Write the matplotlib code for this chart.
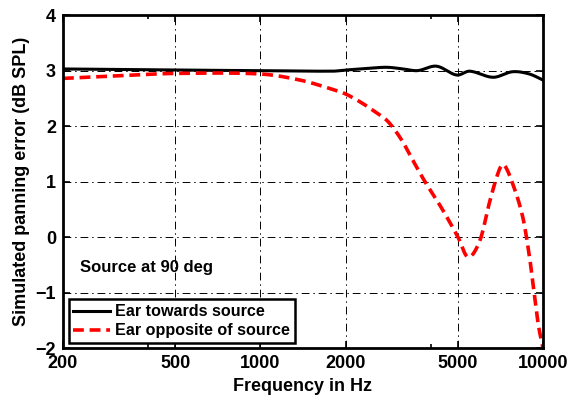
import matplotlib
matplotlib.use("Agg")
import matplotlib.pyplot as plt
import numpy as np
from matplotlib.ticker import FixedLocator, NullFormatter

plt.rcParams['font.family'] = ['Liberation Sans', 'DejaVu Sans']

freq_towards = [200, 500, 1000, 1800, 2000, 2400, 2800, 3200, 3600, 4200, 4950, 5500, 6660, 7800, 8940, 10000]
err_towards = [3.03, 3.01, 3.0, 2.99, 3.01, 3.04, 3.06, 3.03, 3.0, 3.08, 2.92, 2.99, 2.88, 2.98, 2.94, 2.83]

freq_opposite = [200, 350, 500, 995, 1380, 1806, 2000, 2280, 2540, 2830, 3160, 3430, 3820, 4380, 5000, 5430, 5990, 6500, 7000, 7280, 7800, 8480, 8960, 9300, 9600, 10000]
err_opposite = [2.86, 2.92, 2.95, 2.94, 2.83, 2.66, 2.58, 2.42, 2.26, 2.08, 1.75, 1.42, 1.0, 0.52, 0.0, -0.36, -0.05, 0.67, 1.21, 1.30, 0.97, 0.36, -0.36, -1.0, -1.55, -2.0]

xticks = [200, 500, 1000, 2000, 5000, 10000]
xtick_labels = ['200', '500', '1000', '2000', '5000', '10000']
xminor = [400, 4000]
yticks = [-2, -1, 0, 1, 2, 3, 4]

def smooth(xs, ys, n=500):
    lx = np.log10(np.asarray(xs, float))
    ys = np.asarray(ys, float)
    grid = np.linspace(lx[0], lx[-1], n)
    m = np.zeros_like(ys)
    m[1:-1] = (ys[2:] - ys[:-2]) / (lx[2:] - lx[:-2])
    m[0] = (ys[1] - ys[0]) / (lx[1] - lx[0])
    m[-1] = (ys[-1] - ys[-2]) / (lx[-1] - lx[-2])
    idx = np.clip(np.searchsorted(lx, grid) - 1, 0, len(lx) - 2)
    h = lx[idx + 1] - lx[idx]
    t = (grid - lx[idx]) / h
    h00 = 2*t**3 - 3*t**2 + 1; h10 = t**3 - 2*t**2 + t
    h01 = -2*t**3 + 3*t**2; h11 = t**3 - t**2
    out = h00*ys[idx] + h10*h*m[idx] + h01*ys[idx+1] + h11*h*m[idx+1]
    return 10**grid, out

fig = plt.figure(figsize=(5.69, 4.09), dpi=100)
ax = fig.add_axes([0.1107, 0.149, 0.8436, 0.814])

xb, yb = smooth(freq_towards, err_towards)
xr, yr = smooth(freq_opposite, err_opposite)
ax.plot(xb, yb, color='black', lw=2.2, label='Ear towards source')
ax.plot(xr, yr, color='#ff0000', lw=2.6, ls=(0, (3, 1.6)), label='Ear opposite of source')

ax.set_xscale('log')
ax.set_xlim(200, 10000)
ax.set_ylim(-2, 4)
ax.xaxis.set_major_locator(FixedLocator(xticks))
ax.set_xticklabels(xtick_labels)
ax.xaxis.set_minor_locator(FixedLocator(xminor))
ax.xaxis.set_minor_formatter(NullFormatter())
ax.set_yticks(yticks)

ax.grid(True, which='major', color='black', ls=(0, (8, 4, 1.5, 4)), lw=0.7)
ax.tick_params(which='both', direction='in', top=True, right=True, labelsize=13, width=1.2)
ax.tick_params(which='major', length=5, pad=5)
ax.tick_params(which='minor', length=3)
for lbl in ax.get_xticklabels() + ax.get_yticklabels():
    lbl.set_fontweight('bold')
for s in ax.spines.values():
    s.set_linewidth(2.0)

ax.set_xlabel('Frequency in Hz', fontsize=13, fontweight='bold')
ax.set_ylabel('Simulated panning error (dB SPL)', fontsize=13, fontweight='bold')

ax.text(0.035, 0.243, 'Source at 90 deg', transform=ax.transAxes, fontsize=12,
        fontweight='bold', va='center', ha='left')

leg = ax.legend(loc='lower left', bbox_to_anchor=(0.005, 0.005),
                frameon=True, fancybox=False, handlelength=2.3, handletextpad=0.3,
                borderpad=0.3, labelspacing=0.25, borderaxespad=0.2,
                prop={'weight': 'bold', 'size': 11.6})
leg.get_frame().set_edgecolor('black')
leg.get_frame().set_linewidth(1.8)
leg.get_frame().set_alpha(1)

fig.savefig('out.png', dpi=100)
